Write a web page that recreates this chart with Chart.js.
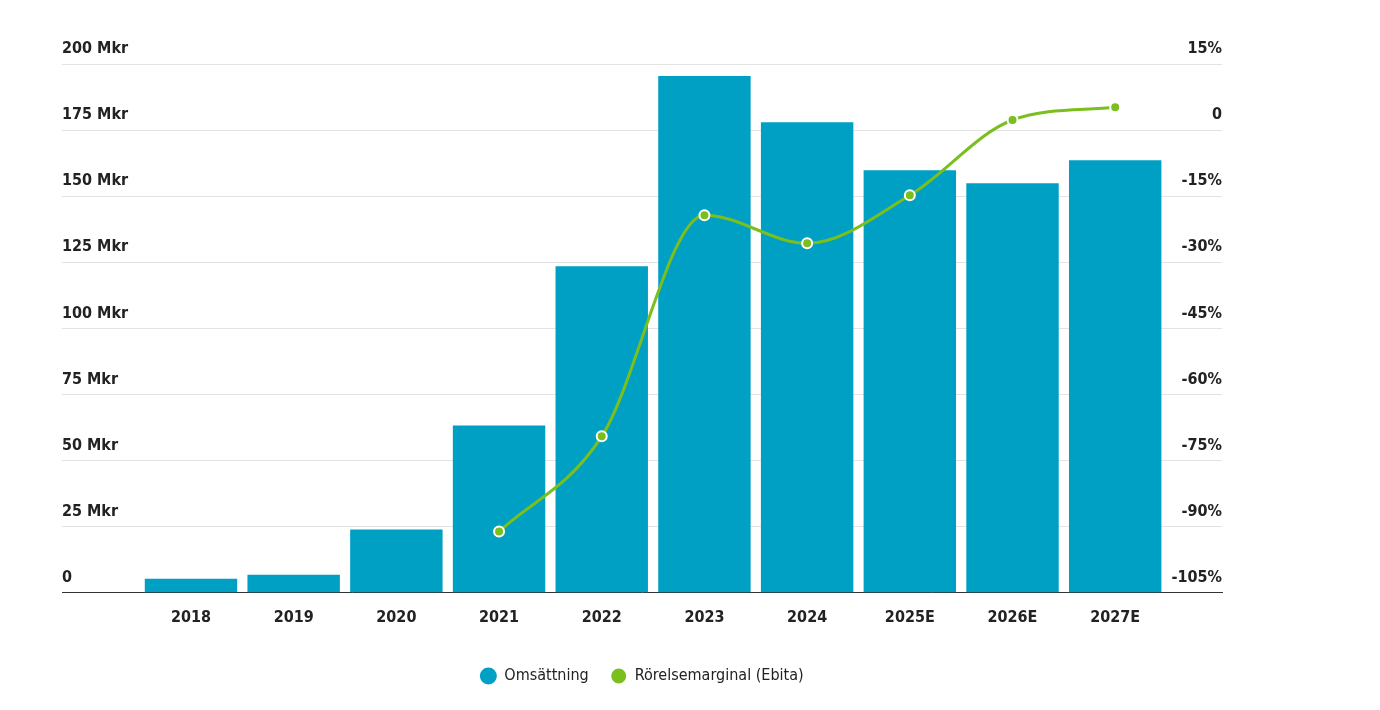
<!DOCTYPE html>
<html lang="sv">
<head>
<meta charset="UTF-8">
<title>Omsättning och rörelsemarginal</title>
<script src="https://cdn.jsdelivr.net/npm/chart.js"></script>
<style>
    body { margin: 0; background: #fff; }
    #wrap { width: 1380px; height: 710px; position: relative; }
</style>
</head>
<body>
<div id="wrap"><canvas id="chart"></canvas></div>
<script>
// data
const years = ['2018', '2019', '2020', '2021', '2022', '2023', '2024', '2025E', '2026E', '2027E'];
const revenue = [5.3, 6.8, 23.9, 63.3, 123.5, 195.5, 178, 159.8, 154.9, 163.6];   // Mkr
const margin = [null, null, null, -91.1, -69.5, -19.3, -25.7, -14.8, 2.3, 5.2];    // %
const leftTicks = [0, 25, 50, 75, 100, 125, 150, 175, 200];
const rightTicks = [-105, -90, -75, -60, -45, -30, -15, 0, 15];

const FONT = "'DejaVu Sans', sans-serif";
const BLUE = '#00a0c4';
const GREEN = '#7abf1d';

let barData = revenue.map((v, i) => ({x: i, y: v}));
let lineData = [];
margin.forEach((v, i) => { if (v !== null) lineData.push({x: i, y: v}); });

// 'condensed' goes into the weight slot so the canvas font shorthand picks the condensed face
let tickFont = { family: FONT, size: 16, weight: 'bold condensed' };

let ctx = document.getElementById('chart').getContext('2d');
let chart = new Chart(ctx, {
    data: {
        datasets: [{
            type: 'bar',
            label: 'Omsättning',
            data: barData,
            backgroundColor: BLUE,
            borderWidth: 0,
            categoryPercentage: 1,
            barPercentage: 0.9,
            yAxisID: 'y',
            order: 1
        }, {
            type: 'line',
            label: 'Rörelsemarginal (Ebita)',
            data: lineData,
            borderColor: GREEN,
            backgroundColor: GREEN,
            borderWidth: 3,
            cubicInterpolationMode: 'monotone',
            pointRadius: 5,
            pointBorderWidth: 2,
            pointBorderColor: '#fff',
            pointBackgroundColor: GREEN,
            yAxisID: 'y2',
            order: 0
        }]
    },
    options: {
        responsive: true,
        maintainAspectRatio: false,
        animation: false,
        events: [],
        layout: { padding: { top: 64, left: 62, right: 158, bottom: 16 } },
        scales: {
            x: {
                type: 'linear',
                offset: false,
                min: -1.256,
                max: 10.04,
                afterFit: s => { s.height += 12; },   // extra gap between year labels and legend
                grid: { display: false },
                border: { display: true, color: '#333', width: 1 },
                ticks: {
                    stepSize: 1,
                    autoSkip: false,
                    maxRotation: 0,
                    padding: 7,
                    color: '#222',
                    font: tickFont,
                    callback: v => (Number.isInteger(v) && years[v]) ? years[v] : ''
                }
            },
            y: {
                position: 'left',
                min: 0,
                max: 200,
                afterBuildTicks: s => { s.ticks = leftTicks.map(v => ({value: v})); },
                grid: { color: '#e3e3e3', drawTicks: false },
                border: { display: false },
                ticks: {
                    mirror: true,
                    padding: 0,
                    labelOffset: -15,
                    color: '#222',
                    font: tickFont,
                    callback: v => v === 0 ? '0' : v + ' Mkr'
                }
            },
            y2: {
                position: 'right',
                min: -105,
                max: 15,
                afterBuildTicks: s => { s.ticks = rightTicks.map(v => ({value: v})); },
                grid: { display: false, drawTicks: false },
                border: { display: false },
                ticks: {
                    mirror: true,
                    padding: 0,
                    labelOffset: -15,
                    color: '#222',
                    font: tickFont,
                    callback: v => v === 0 ? '0' : v + '%'
                }
            }
        },
        plugins: {
            tooltip: { enabled: false },
            legend: {
                position: 'bottom',
                labels: {
                    usePointStyle: true,
                    pointStyle: 'circle',
                    boxHeight: 12,
                    padding: 22,
                    color: '#222',
                    font: { family: FONT, size: 16, weight: 'normal condensed' },
                    sort: (a, b) => a.datasetIndex - b.datasetIndex
                }
            }
        }
    }
});
</script>
</body>
</html>
